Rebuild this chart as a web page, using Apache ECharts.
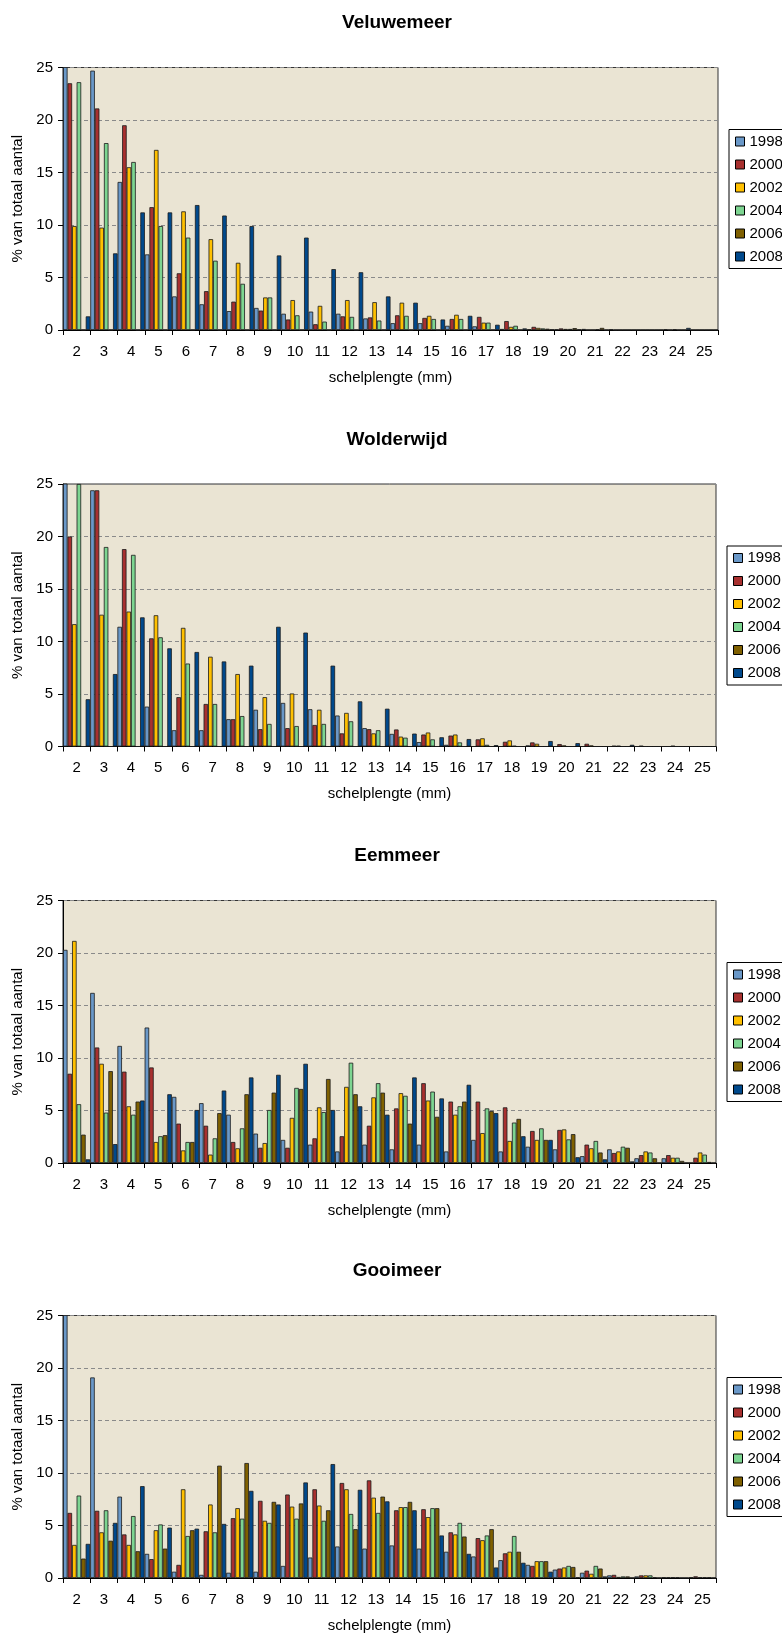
<!DOCTYPE html>
<html>
<head>
<meta charset="utf-8">
<script src="https://cdn.jsdelivr.net/npm/echarts@6/dist/echarts.min.js"></script>
<style>
  html, body { margin: 0; padding: 0; background: #ffffff; }
  #chart { width: 782px; height: 1635px; }
</style>
</head>
<body>
<div id="chart"></div>
<script>
// Shell length classes (mm) on the x axis
const lengths = ['2','3','4','5','6','7','8','9','10','11','12','13','14','15','16','17','18','19','20','21','22','23','24','25'];
const years = ['1998','2000','2002','2004','2006','2008'];
const lakes = ['Veluwemeer','Wolderwijd','Eemmeer','Gooimeer'];
const yMax = 25;
const yStep = 5;

// Percentage of total count per length class, one array per lake and survey year
const veluwemeer1998 = [26, 24.7, 14.1, 7.2, 3.2, 2.45, 1.8, 2.1, 1.55, 1.75, 1.55, 1.1, 0.65, 0.65, 0.4, 0.35, 0.1, 0.06, 0.05, 0.1, 0.06, 0, 0.06, 0];
const veluwemeer2000 = [23.5, 21.1, 19.5, 11.7, 5.4, 3.7, 2.7, 1.85, 1.0, 0.55, 1.3, 1.2, 1.4, 1.15, 1.05, 1.25, 0.85, 0.3, 0.15, 0, 0, 0, 0, 0];
const veluwemeer2002 = [9.9, 9.75, 15.5, 17.15, 11.3, 8.65, 6.4, 3.1, 2.85, 2.3, 2.85, 2.65, 2.6, 1.35, 1.45, 0.7, 0.3, 0.2, 0.1, 0, 0, 0, 0.06, 0];
const veluwemeer2004 = [23.6, 17.8, 16.0, 9.9, 8.8, 6.6, 4.4, 3.1, 1.4, 0.8, 1.25, 0.9, 1.35, 1.05, 1.05, 0.7, 0.4, 0.15, 0.1, 0.06, 0, 0, 0, 0];
const veluwemeer2006 = [0, 0, 0, 0, 0, 0, 0, 0, 0, 0, 0, 0, 0, 0, 0, 0, 0, 0.12, 0.18, 0.2, 0, 0, 0, 0];
const veluwemeer2008 = [1.3, 7.3, 11.2, 11.2, 11.9, 10.9, 9.9, 7.1, 8.8, 5.8, 5.5, 3.2, 2.6, 1.0, 1.35, 0.5, 0.15, 0.05, 0.05, 0, 0, 0, 0.2, 0];

const wolderwijd1998 = [26, 24.4, 11.4, 3.8, 1.55, 1.55, 2.6, 3.5, 4.15, 3.55, 2.95, 1.75, 1.2, 0.42, 0.16, 0, 0, 0.1, 0, 0, 0, 0, 0, 0];
const wolderwijd2000 = [20.0, 24.4, 18.8, 10.3, 4.7, 4.05, 2.6, 1.65, 1.75, 2.05, 1.25, 1.65, 1.62, 1.14, 1.04, 0.68, 0.45, 0.39, 0.23, 0.26, 0.06, 0.06, 0, 0];
const wolderwijd2002 = [11.65, 12.55, 12.85, 12.5, 11.3, 8.55, 6.9, 4.7, 5.05, 3.5, 3.2, 1.25, 0.94, 1.33, 1.14, 0.78, 0.58, 0.26, 0.1, 0.1, 0.06, 0, 0.06, 0];
const wolderwijd2004 = [25.0, 19.0, 18.25, 10.4, 7.9, 4.05, 2.9, 2.15, 1.95, 2.15, 2.4, 1.55, 0.84, 0.68, 0.39, 0.16, 0.06, 0, 0, 0, 0, 0, 0, 0];
const wolderwijd2006 = [0, 0, 0, 0, 0, 0, 0, 0, 0, 0, 0, 0, 0, 0, 0, 0, 0, 0, 0, 0, 0, 0, 0, 0];
const wolderwijd2008 = [4.5, 6.9, 12.3, 9.35, 9.0, 8.1, 7.7, 11.4, 10.85, 7.7, 4.3, 3.6, 1.23, 0.88, 0.71, 0.13, 0, 0.52, 0.32, 0, 0.16, 0, 0, 0];

const eemmeer1998 = [20.3, 16.2, 11.15, 12.9, 6.3, 5.7, 4.6, 2.8, 2.2, 1.75, 1.1, 1.75, 1.3, 1.75, 1.1, 2.2, 1.1, 1.55, 1.3, 0.65, 1.3, 0.45, 0.45, 0];
const eemmeer2000 = [8.5, 11.0, 8.7, 9.1, 3.75, 3.55, 2.0, 1.45, 1.45, 2.35, 2.55, 3.55, 5.2, 7.6, 5.85, 5.85, 5.3, 3.05, 3.15, 1.75, 0.95, 0.75, 0.75, 0.5];
const eemmeer2002 = [21.15, 9.45, 5.4, 2.0, 1.2, 0.8, 1.4, 1.9, 4.3, 5.3, 7.25, 6.25, 6.65, 5.95, 4.6, 2.85, 2.1, 2.2, 3.2, 1.4, 1.1, 1.1, 0.5, 1.0];
const eemmeer2004 = [5.6, 4.8, 4.6, 2.55, 2.0, 2.35, 3.3, 5.05, 7.15, 4.85, 9.55, 7.6, 6.4, 6.8, 5.4, 5.2, 3.85, 3.3, 2.25, 2.1, 1.55, 1.0, 0.5, 0.8];
const eemmeer2006 = [2.7, 8.75, 5.85, 2.65, 2.0, 4.75, 6.55, 6.7, 7.05, 8.0, 6.55, 6.7, 3.75, 4.4, 5.85, 4.95, 4.2, 2.2, 2.75, 1.0, 1.45, 0.45, 0.2, 0.1];
const eemmeer2008 = [0.35, 1.8, 5.95, 6.55, 5.05, 6.9, 8.15, 8.4, 9.45, 5.05, 5.4, 4.6, 8.15, 6.15, 7.45, 4.75, 2.55, 2.2, 0.55, 0.35, 0.15, 0, 0, 0];

const gooimeer1998 = [26, 19.1, 7.75, 2.3, 0.6, 0.3, 0.5, 0.6, 1.15, 1.95, 3.0, 2.8, 3.1, 2.8, 2.5, 2.05, 1.7, 1.25, 0.8, 0.5, 0.25, 0.15, 0.06, 0.06];
const gooimeer2000 = [6.2, 6.4, 4.15, 1.8, 1.25, 4.45, 5.7, 7.35, 7.95, 8.45, 9.05, 9.3, 6.45, 6.55, 4.35, 3.8, 2.35, 1.15, 0.9, 0.7, 0.3, 0.25, 0.06, 0.16];
const gooimeer2002 = [3.15, 4.35, 3.15, 4.55, 8.45, 7.0, 6.65, 5.45, 6.8, 6.9, 8.45, 7.65, 6.75, 5.8, 4.15, 3.6, 2.5, 1.6, 1.0, 0.4, 0.1, 0.25, 0.06, 0.06];
const gooimeer2004 = [7.85, 6.45, 5.9, 5.1, 4.0, 4.35, 5.65, 5.25, 5.65, 5.45, 6.1, 6.2, 6.75, 6.65, 5.25, 4.05, 4.0, 1.6, 1.15, 1.15, 0.15, 0.25, 0.06, 0.06];
const gooimeer2006 = [1.85, 3.55, 2.55, 2.8, 4.55, 10.7, 10.95, 7.25, 7.1, 6.45, 4.65, 7.75, 7.25, 6.65, 3.95, 4.65, 2.5, 1.6, 1.05, 0.9, 0.15, 0.06, 0, 0.06];
const gooimeer2008 = [3.25, 5.25, 8.75, 4.8, 4.7, 5.15, 8.3, 7.0, 9.1, 10.85, 8.4, 7.3, 6.45, 4.05, 2.3, 1.0, 1.45, 0.6, 0.06, 0.15, 0, 0, 0, 0];

const lakeSeries = [
  [veluwemeer1998, veluwemeer2000, veluwemeer2002, veluwemeer2004, veluwemeer2006, veluwemeer2008],
  [wolderwijd1998, wolderwijd2000, wolderwijd2002, wolderwijd2004, wolderwijd2006, wolderwijd2008],
  [eemmeer1998, eemmeer2000, eemmeer2002, eemmeer2004, eemmeer2006, eemmeer2008],
  [gooimeer1998, gooimeer2000, gooimeer2002, gooimeer2004, gooimeer2006, gooimeer2008]
];

// Styling and panel layout
const yearColors = ['#6A98C8', '#A8302F', '#FFC000', '#7DD591', '#7F6000', '#00498C'];
const font = '"Liberation Sans", Arial, sans-serif';
const plotTops = [67.5, 484, 900.5, 1315.5];
const plotHeight = 262.5;
const plotLeft = 63;
const plotRights = [64, 66, 66, 66];
const titleOffset = 59;
const legendOffset = 62;

const chart = echarts.init(document.getElementById('chart'), null, { renderer: 'canvas' });

const option = {
  animation: false,
  backgroundColor: '#ffffff',
  textStyle: { fontFamily: font },
  title: lakes.map((name, i) => ({
    text: name,
    left: 392,
    top: plotTops[i] - titleOffset,
    textAlign: 'center',
    textStyle: { fontFamily: font, fontSize: 19, fontWeight: 'bold', color: '#000' }
  })),
  legend: lakes.map((_, i) => ({
    orient: 'vertical',
    left: 782 - plotRights[i] + 11,
    top: plotTops[i] + legendOffset,
    data: years,
    icon: 'rect',
    itemWidth: 9,
    itemHeight: 9,
    itemGap: 7,
    padding: [4, 14, 4, 6],
    backgroundColor: '#ffffff',
    borderColor: '#000',
    borderWidth: 1,
    selectedMode: false,
    itemStyle: { borderColor: '#000', borderWidth: 1 },
    textStyle: { fontFamily: font, fontSize: 15, lineHeight: 16, color: '#000' }
  })),
  grid: lakes.map((_, i) => ({
    left: plotLeft,
    right: plotRights[i],
    top: plotTops[i],
    height: plotHeight,
    show: true,
    backgroundColor: '#EAE4D3',
    borderColor: '#333',
    borderWidth: 1
  })),
  xAxis: lakes.map((_, i) => ({
    type: 'category',
    gridIndex: i,
    data: lengths,
    axisLine: { lineStyle: { color: '#000', width: 1 } },
    axisTick: { show: true, length: 5, lineStyle: { color: '#000' } },
    axisLabel: { interval: 0, fontFamily: font, fontSize: 15, color: '#000', margin: 14 },
    name: 'schelplengte (mm)',
    nameLocation: 'middle',
    nameGap: 40,
    nameTextStyle: { fontFamily: font, fontSize: 15, color: '#000' }
  })),
  yAxis: lakes.map((_, i) => ({
    type: 'value',
    gridIndex: i,
    min: 0,
    max: yMax,
    interval: yStep,
    axisLine: { show: true, lineStyle: { color: '#000', width: 1 } },
    axisTick: { show: true, length: 5, lineStyle: { color: '#000' } },
    axisLabel: { fontFamily: font, fontSize: 15, color: '#000', margin: 10 },
    splitLine: { show: true, lineStyle: { color: '#8a8a8a', type: [4, 3], width: 1 } },
    name: '% van totaal aantal',
    nameLocation: 'middle',
    nameGap: 38,
    nameTextStyle: { fontFamily: font, fontSize: 15, color: '#000' }
  })),
  series: []
};

lakes.forEach((_, i) => {
  years.forEach((year, j) => {
    option.series.push({
      type: 'bar',
      name: year,
      xAxisIndex: i,
      yAxisIndex: i,
      data: lakeSeries[i][j],
      barGap: '0%',
      barCategoryGap: '0%',
      clip: true,
      itemStyle: { color: yearColors[j], borderColor: '#1a1a1a', borderWidth: 0.8 },
      emphasis: { disabled: true }
    });
  });
});

chart.setOption(option);
</script>
</body>
</html>
